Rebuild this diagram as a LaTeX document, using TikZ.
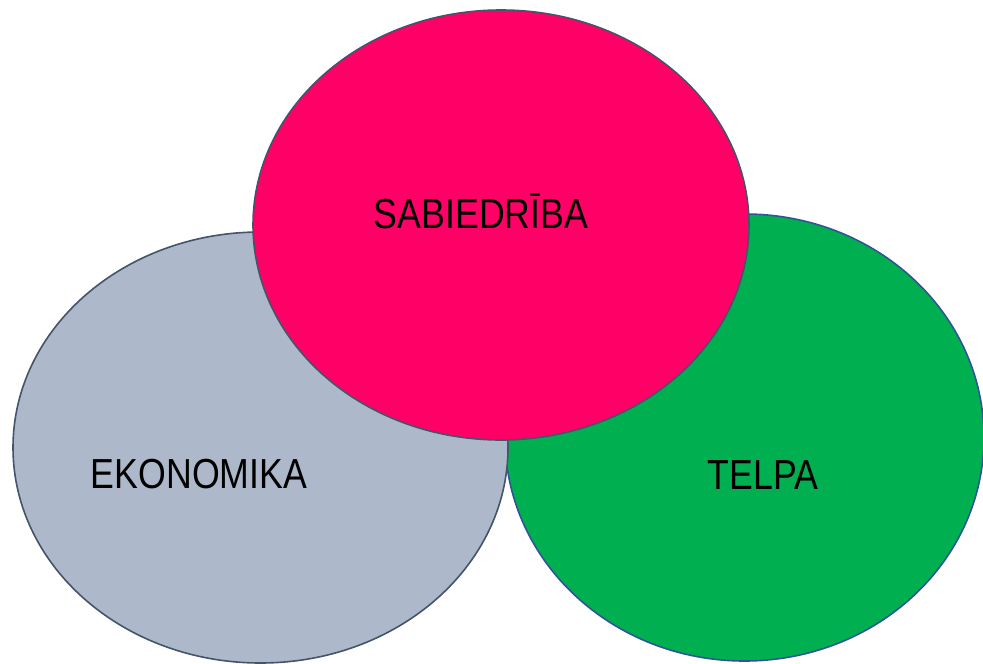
\documentclass[tikz,border=0pt]{standalone}
\usepackage{fontspec}
\setmainfont{Liberation Sans}
\newfontfamily\narrowfont[FakeStretch=0.85]{Liberation Sans}
\definecolor{pinkfill}{HTML}{FF0066}
\definecolor{greenfill}{HTML}{00B050}
\definecolor{grayfill}{HTML}{ADB9CA}
\definecolor{slateline}{HTML}{44546A}
\definecolor{blueline}{HTML}{2F5597}
\tikzset{
  circ/.style={line width=1.6pt},
  lbl/.style={anchor=base, font=\narrowfont\fontsize{42}{48}\selectfont, text=black, inner sep=0pt}
}
\begin{document}
\begin{tikzpicture}[x=1pt,y=-1pt]
\useasboundingbox (0,0) rectangle (983,664);
\clip (0,0) rectangle (983,664);
\draw[circ, fill=greenfill, draw=blueline] (744.5,437.5) ellipse [x radius=239.5, y radius=223.5];
\draw[circ, fill=grayfill, draw=slateline] (260.5,447.5) ellipse [x radius=247.5, y radius=215.5];
\draw[circ, fill=pinkfill, draw=slateline] (501,225) ellipse [x radius=248, y radius=215];
\node[lbl] (sab) at (481,228) {SABIEDRĪBA};
\node[lbl] (eko) at (199,488) {EKONOMIKA};
\node[lbl] (tel) at (763,489) {TELPA};
\end{tikzpicture}
\end{document}
